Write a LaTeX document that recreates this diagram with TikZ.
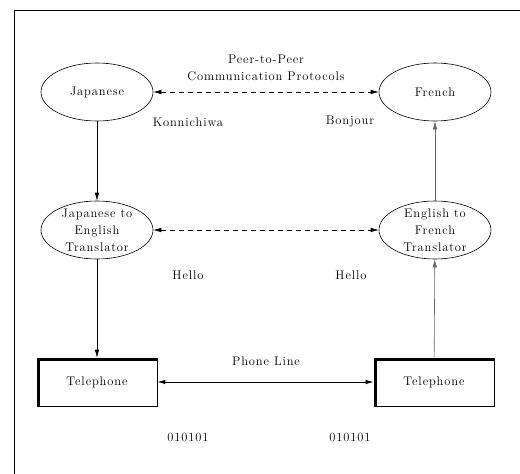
\documentclass[tikz,border=0pt]{standalone}
\usepackage{fontspec}
\setmainfont{Latin Modern Roman}[LetterSpace=7]
\usepackage{tikz}
\usetikzlibrary{shapes.geometric,arrows.meta}

\begin{document}
\begin{tikzpicture}[x=1pt,y=-1pt,line width=0.6pt,
  every node/.style={font=\fontsize{12.5}{17}\selectfont},
  layer/.style={ellipse,draw,minimum width=112pt,minimum height=58pt,inner sep=0pt,align=center},
  phone/.style={rectangle,draw,minimum width=120pt,minimum height=48pt},
  flow/.style={-{Latex[length=8pt,width=4.5pt]}},
  peer/.style={{Latex[length=8pt,width=4.5pt]}-{Latex[length=8pt,width=4.5pt]},dash pattern=on 5pt off 4pt}]
\useasboundingbox (0,0) rectangle (520,474);
% Draw the frame (top and left sides)
\draw[line width=0.9pt] (14,474) -- (14,10) -- (520,10);
% Draw the layers
\node[layer] (jap) at (97,92) {Japanese};
\node[layer] (fre) at (435,92) {French};
\node[layer,inner ysep=-6pt] (jtoe) at (97,230) {Japanese to\\English\\Translator};
\node[layer,inner ysep=-6pt] (etof) at (435,230) {English to\\French\\Translator};
% Draw the telephones
\node[phone] (telA) at (97,382) {Telephone};
\node[phone] (telB) at (434,382) {Telephone};
\foreach \t in {telA,telB}
  \draw[line width=3.5pt] ([xshift=1.75pt]\t.south west) -- ([shift={(1.75pt,-1.75pt)}]\t.north west) -- ([yshift=-1.75pt]\t.north east);
% Draw the connectors
\draw[flow] (jap) -- (jtoe);
\draw[flow] (jtoe) -- (telA);
\draw[flow,black!60] (telB) -- (etof);
\draw[flow,black!60] (etof) -- (fre);
\draw[peer] (jap) -- (fre);
\draw[peer] (jtoe) -- (etof);
\draw[{Latex[length=8pt,width=4.5pt]}-{Latex[length=8pt,width=4.5pt]},line width=0.9pt] (telA) -- (telB);
% Labels
\node[align=center] (proto) at (266,68) {Peer-to-Peer\\Communication Protocols};
\node (konni) at (188,122) {Konnichiwa};
\node (bonj) at (350,122) {Bonjour};
\node (helloA) at (188,275) {Hello};
\node (helloB) at (351,275) {Hello};
\node (line) at (266,361) {Phone Line};
\node (bitsA) at (188,437) {010101};
\node (bitsB) at (350,437) {010101};
\end{tikzpicture}
\end{document}
